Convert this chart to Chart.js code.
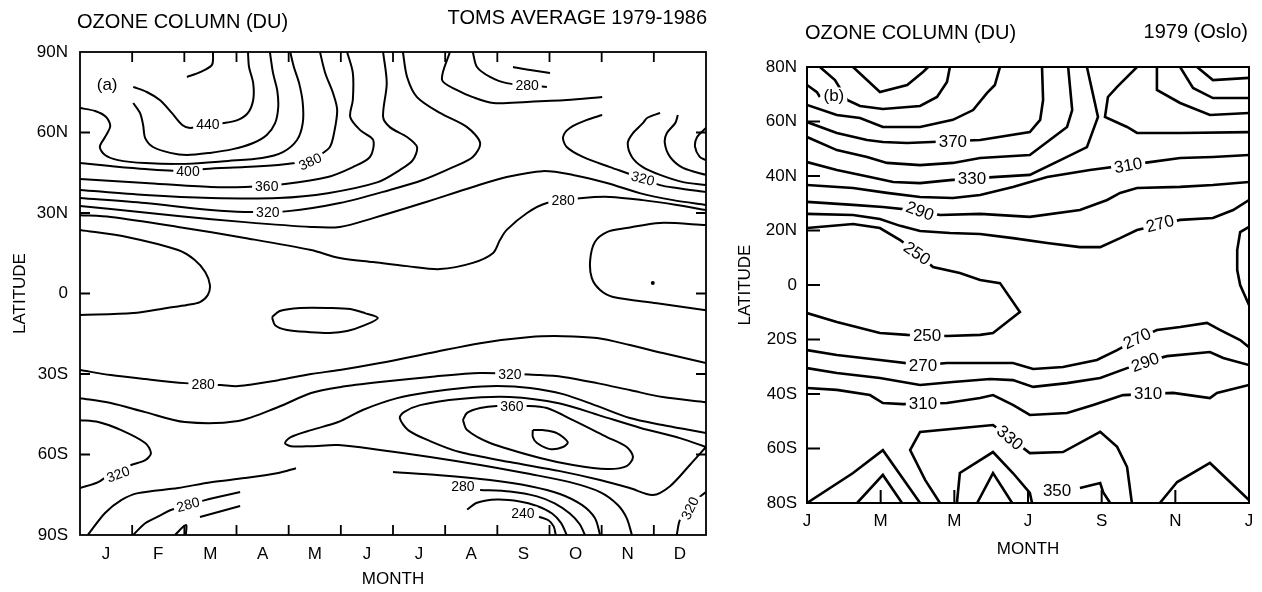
<!DOCTYPE html>
<html>
<head>
<meta charset="utf-8">
<script src="https://cdn.jsdelivr.net/npm/chart.js@4.4.0/dist/chart.umd.min.js"></script>
<style>
  html, body { margin: 0; padding: 0; background: #fff; }
  #wrap { position: relative; width: 1262px; height: 592px; }
  .panel { position: absolute; top: 0; height: 592px; }
  #pa { left: 0; width: 720px; }
  #pb { left: 720px; width: 542px; }
</style>
</head>
<body>
<div id="wrap">
  <div class="panel" id="pa"><canvas id="chartA" width="720" height="592"></canvas></div>
  <div class="panel" id="pb"><canvas id="chartB" width="542" height="592"></canvas></div>
</div>
<script>
// ---- (a) TOMS average 1979-1986 : [month (0 = start of Jan), latitude (+N / -S)] ----
const monthsA = ["J", "F", "M", "A", "M", "J", "J", "A", "S", "O", "N", "D"];
const monthCentersA = [0.5, 1.5, 2.5, 3.5, 4.5, 5.5, 6.5, 7.5, 8.5, 9.5, 10.5, 11.5];
const latTicksA = [-90, -60, -30, 0, 30, 60, 90];
const monthMarksA = [1, 2, 3, 4, 5, 6, 7, 8, 9, 10, 11];
const latMarksA = [-60, -30, 0, 30, 60];

const a460 = [[2.55,90],[2.53,85.2],[2.30,82.5],[2.05,80.7]];
const a440 = [[1.02,77.0],[1.28,75.1],[1.53,72.1],[1.76,67.3],[1.96,62.8],[2.11,61.7],[2.45,62.8],[2.76,63.5],[3.03,64.7],[3.22,67.3],[3.32,72.1],[3.32,78.4],[3.24,84.4],[3.22,90]];
const a420 = [[1.02,71.0],[1.15,67.3],[1.21,62.8],[1.25,57.9],[1.40,54.6],[1.73,52.4],[2.05,51.6],[2.49,52.4],[2.93,53.8],[3.32,56.1],[3.58,59.1],[3.74,63.5],[3.80,69.5],[3.78,75.8],[3.70,82.2],[3.64,90]];
const a410 = [[0,69.1],[0.29,68.0],[0.50,65.8],[0.58,62.4],[0.48,58.3],[0.38,54.6],[0.48,51.6],[0.73,49.7],[1.25,48.6],[2.01,48.3],[2.84,49.4],[3.49,50.5],[3.89,52.7],[4.16,57.2],[4.27,63.5],[4.27,71.0],[4.20,78.4],[4.10,84.4],[4.03,90]];
const a400 = [[0,48.6],[0.58,47.5],[1.25,46.4],[2.07,45.6],[2.40,46.4],[3.16,47.1],[3.80,47.9],[4.12,48.6],[4.41,49.7],[4.60,51.6],[4.79,54.6],[4.87,59.8],[4.93,68.4],[4.85,74.7],[4.70,82.2],[4.60,90]];
const a360 = [[0,42.7],[1.25,41.2],[2.51,39.7],[3.16,39.7],[3.93,40.8],[4.75,43.4],[5.23,47.1],[5.56,50.9],[5.62,57.2],[5.37,60.9],[5.18,65.8],[5.23,72.1],[5.23,82.2],[5.12,90]];
const a340 = [[0,38.6],[1.25,36.7],[2.51,35.6],[3.80,35.6],[4.75,37.4],[5.71,41.5],[6.13,46.0],[6.38,49.7],[6.46,54.6],[6.27,58.3],[5.94,62.0],[5.81,65.8],[5.88,78.4],[5.81,90]];
const a320 = [[0,35.6],[1.25,33.7],[2.51,31.1],[3.16,30.4],[3.99,30.7],[4.98,33.7],[5.94,38.6],[6.57,42.3],[7.15,47.1],[7.53,50.9],[7.67,56.1],[7.42,62.0],[6.90,67.3],[6.46,73.2],[6.27,80.7],[6.19,90]];
const a300 = [[0,32.6],[0.59,31.5],[1.88,28.9],[3.16,26.6],[4.43,24.8],[4.98,24.8],[5.62,28.1],[6.57,33.7],[7.53,39.7],[8.18,43.4],[8.87,45.6],[9.45,44.2],[10.10,41.2],[10.73,37.4],[11.37,34.8],[12,33.0]];
const a280 = [[0,29.2],[0.59,28.5],[1.88,24.8],[3.16,20.7],[4.43,16.2],[4.98,13.2],[5.62,11.7],[6.27,10.2],[6.90,9.1],[7.53,11.4],[7.92,15.1],[8.05,19.9],[8.18,23.7],[8.57,30.0],[8.95,33.7],[9.64,35.6],[10.16,36.0],[10.79,34.8],[11.44,33.0],[12,31.1]];
const a260 = [[0,23.7],[0.92,21.0],[1.88,16.2],[2.20,12.5],[2.40,8.0],[2.49,3.2],[2.45,-0.6],[2.30,-3.2],[2.05,-4.3],[1.67,-5.4],[1.02,-7.3],[0,-8.0]];
const a300Top = [[7.09,90],[6.94,79.6],[7.23,75.8],[7.53,73.2],[7.92,71.0],[8.57,71.4],[9.33,72.1],[10.01,73.2]];
const a280Top = [[7.53,90],[7.61,84.4],[7.86,80.7],[8.18,78.4],[8.95,77.0]];
const a260Top = [[8.30,84.4],[8.63,83.3],[9.01,82.2]];
const a320Nov = [[10.01,66.5],[9.72,64.7],[9.39,61.7],[9.26,58.3],[9.33,54.6],[9.64,50.9],[10.16,47.1],[10.48,44.9],[11.12,40.4],[11.44,39.3],[12,37.8]];
const a340Nov = [[11.12,67.3],[10.87,65.4],[10.79,63.5],[10.60,59.8],[10.50,56.1],[10.58,50.9],[10.79,47.1],[11.12,44.2],[11.56,41.5],[12,40.4]];
const a360Dec = [[11.46,66.5],[11.41,63.5],[11.25,59.8],[11.21,56.1],[11.31,50.9],[11.56,46.8],[12,44.2]];
const a380Dec = [[12,61.7],[11.83,58.3],[11.79,54.6],[11.88,50.9],[12,49.7]];
const a260Nov = [[12,25.5],[11.12,26.3],[10.48,24.4],[10.10,22.9],[9.87,19.2],[9.78,12.5],[9.81,5.8],[9.97,1.3],[10.22,-1.3],[11.06,-3.6],[12,-6.2]];
const a260Apr = [[3.68,-8.8],[3.83,-6.5],[4.22,-5.4],[4.79,-5.4],[5.18,-5.8],[5.46,-7.3],[5.71,-9.1],[5.46,-11.8],[5.12,-14.0],[4.79,-14.7],[4.41,-14.4],[3.97,-13.6],[3.74,-11.8],[3.68,-8.8]];
const a280S = [[0,-28.5],[0.59,-30.4],[1.25,-31.9],[2.01,-33.4],[2.70,-34.1],[3.03,-34.5],[3.80,-32.3],[4.43,-30.0],[4.98,-28.5],[5.75,-25.9],[6.71,-22.2],[7.67,-18.5],[8.63,-16.2],[9.26,-15.9],[9.91,-16.6],[10.54,-19.2],[11.17,-22.2],[12,-25.9]];
const a300S = [[0,-39.0],[0.59,-40.8],[1.25,-44.2],[2.01,-47.9],[3.03,-47.5],[3.80,-42.3],[4.43,-37.1],[4.98,-34.9],[5.75,-33.0],[6.71,-31.1],[7.67,-29.6],[8.82,-30.4],[9.26,-31.1],[9.91,-33.4],[10.54,-36.0],[11.17,-38.6],[12,-40.5]];
const a320Jan = [[0,-47.2],[0.35,-47.9],[0.79,-50.9],[1.25,-55.7],[1.36,-59.5],[1.25,-62.1],[0.98,-63.9],[0.58,-67.3],[0.35,-70.3],[0,-72.5]];
const a320S = [[12,-52.0],[11.69,-50.9],[11.17,-49.0],[10.54,-46.4],[9.91,-41.9],[9.26,-37.5],[8.63,-35.2],[7.99,-34.5],[7.34,-35.2],[6.71,-36.7],[6.08,-39.0],[5.42,-43.4],[4.95,-47.9],[4.43,-50.9],[4.04,-53.5],[3.93,-55.7],[4.04,-56.9],[4.43,-56.9],[4.95,-56.5],[5.75,-58.3],[6.71,-60.9],[7.67,-63.9],[8.63,-67.3],[9.39,-70.3],[9.97,-74.0],[10.31,-78.8],[10.48,-83.7],[10.58,-90]];
const a340S = [[12,-57.2],[11.50,-53.9],[10.73,-50.0],[9.97,-45.5],[9.20,-41.0],[8.24,-38.6],[7.28,-39.3],[6.52,-41.6],[6.21,-44.2],[6.13,-46.4],[6.29,-50.9],[6.71,-55.0],[7.28,-59.1],[8.24,-62.8],[9.20,-66.2],[9.97,-69.5],[10.54,-72.5],[10.98,-75.1],[11.31,-71.8],[11.69,-63.9],[12,-57.2]];
const a360S = [[7.34,-47.2],[7.42,-44.5],[7.67,-42.7],[7.99,-41.9],[8.57,-41.9],[8.95,-42.7],[9.45,-47.2],[10.10,-53.5],[10.48,-57.2],[10.60,-60.9],[10.48,-64.3],[10.10,-65.4],[9.45,-63.9],[8.82,-61.3],[7.86,-55.7],[7.42,-50.9],[7.34,-47.2]];
const a380S = [[8.68,-50.9],[8.87,-50.9],[9.14,-52.0],[9.35,-55.4],[9.26,-57.2],[9.01,-58.0],[8.76,-55.7],[8.68,-53.5],[8.68,-50.9]];
const a300Sep = [[6.00,-66.5],[6.90,-67.7],[7.86,-69.5],[8.63,-71.8],[9.20,-74.7],[9.62,-78.8],[9.87,-83.7],[9.97,-90]];
const a280Sep = [[7.67,-73.2],[8.24,-73.8],[8.76,-75.6],[9.10,-78.2],[9.39,-82.0],[9.58,-86.0],[9.68,-90]];
const a260Sep = [[7.42,-80.5],[7.61,-78.0],[7.99,-76.8],[8.43,-77.5],[8.76,-79.2],[9.05,-82.0],[9.22,-85.5],[9.33,-90]];
const a240Sep = [[8.80,-83.2],[8.98,-84.5],[9.08,-86.8],[9.12,-90]];
const a300Feb = [[0.15,-90],[0.48,-81.8],[0.79,-77.0],[1.11,-74.4],[1.88,-72.5],[2.51,-70.3],[3.16,-68.8],[3.80,-66.9],[4.14,-65.1]];
const a280Feb = [[1.02,-90],[1.25,-85.6],[1.55,-82.6],[1.74,-80.7],[2.40,-77.0],[3.07,-74.0]];
const a260Feb = [[2.30,-83.3],[3.07,-79.2]];
const a240Feb = [[1.82,-90],[2.03,-86.3],[2.03,-90]];
const a320Dec = [[11.44,-90],[11.50,-84.4],[11.69,-78.8],[12,-74.0]];
const dotsA = [[10.98,3.9]];

// contour labels: [text, month, latitude, angle]
const labelsA = [
  ["440",2.45,63.2,0], ["400",2.07,45.6,0], ["380",4.41,49.2,-25], ["360",3.58,39.9,0],
  ["320",3.60,30.5,0], ["280",8.57,77.7,0], ["280",9.26,34.7,0], ["320",10.79,42.9,15],
  ["280",2.36,-33.6,0], ["320",8.24,-30.2,0], ["360",8.28,-41.9,0], ["320",0.73,-67.3,-20],
  ["280",2.07,-78.6,-15], ["280",7.34,-71.8,0], ["240",8.49,-81.8,0], ["320",11.69,-80.0,-65]
];

// ---- (b) 1979 (Oslo) model ----
const monthsB = ["J", "M", "M", "J", "S", "N", "J"];
const monthTicksB = [0, 2, 4, 6, 8, 10, 12];
const latTicksB = [-80, -60, -40, -20, 0, 20, 40, 60, 80];
const monthMarksB = [2, 4, 6, 8, 10];
const latMarksB = [-60, -40, -20, 0, 20, 40, 60];

const b410 = [[1.25,80],[1.98,70.8],[2.72,73.4],[3.15,78.2],[3.29,80]];
const b400 = [[0.35,80],[0.76,75.2],[1.09,67.9],[1.44,65.7],[2.06,64.6],[3.07,65.7],[3.53,69.0],[3.80,74.5],[3.88,80]];
const b400Edge = [[0,73.4],[0.27,70.8],[0.35,69.0]];
const b390 = [[0,66.1],[0.81,62.4],[1.44,61.3],[2.06,58.0],[3.07,58.0],[3.96,60.6],[4.51,64.2],[4.89,70.5],[5.10,73.4],[5.24,80]];
const b370 = [[0,59.8],[0.81,55.8],[1.63,53.2],[2.06,52.5],[2.72,52.1],[4.70,53.2],[6.05,56.1],[6.33,60.6],[6.41,67.9],[6.38,80]];
const b350 = [[0,54.3],[0.81,49.5],[1.63,47.0],[2.17,44.8],[3.07,44.0],[3.96,44.8],[4.70,46.6],[6.05,47.7],[7.06,58.0],[7.20,64.2],[7.09,80]];
const b330 = [[0,45.1],[0.81,42.2],[1.71,39.6],[2.34,37.8],[3.07,37.4],[3.88,38.5],[5.05,39.6],[6.05,40.4],[7.06,47.0],[7.60,50.6],[7.90,61.7],[7.60,80]];
const b330Oct = [[8.96,80],[8.42,72.7],[8.17,69.0],[8.09,61.7],[8.69,58.0],[8.96,55.8],[10.13,55.8],[12,56.1]];
const b350Nov = [[9.50,80],[9.50,71.6],[10.13,66.8],[10.94,62.4],[12,63.1]];
const b370Nov = [[10.13,80],[10.48,72.3],[11.02,68.6],[12,68.6]];
const b390Dec = [[10.59,80],[11.02,75.2],[12,76.0]];
const b310 = [[0,36.7],[1.25,35.6],[2.17,33.8],[3.07,32.3],[3.96,31.9],[4.70,33.0],[5.59,36.0],[6.52,39.6],[7.68,42.2],[9.31,45.1],[10.13,46.6],[11.02,47.0],[12,47.7]];
const b290 = [[0,30.5],[1.25,29.4],[2.06,28.6],[3.07,27.2],[3.61,25.7],[4.70,26.1],[6.05,25.0],[7.41,27.5],[8.15,31.2],[8.50,33.8],[8.96,35.6],[10.13,36.0],[11.02,36.7],[12,37.8]];
const b270 = [[0,26.1],[1.25,25.7],[1.98,24.2],[2.53,21.7],[3.07,19.8],[3.88,19.1],[4.70,18.7],[5.59,17.2],[6.52,15.4],[7.41,13.9],[7.96,13.9],[8.50,17.2],[8.96,20.2],[10.13,23.9],[11.02,24.6],[11.57,27.5],[12,31.2]];
const b250 = [[0,20.9],[1.25,22.4],[1.98,20.9],[2.53,16.5],[2.99,11.7],[3.42,6.6],[4.15,4.4],[4.70,1.8],[5.24,0.7],[5.78,-9.9],[5.05,-17.6],[4.70,-18.3],[3.80,-18.7],[2.72,-18.3],[1.98,-17.6],[0.81,-13.6],[0,-10.3]];
const b250Dec = [[12,21.3],[11.76,19.4],[11.68,12.8],[11.68,5.5],[11.76,0],[12,-7.3]];
const b270S = [[0,-23.9],[0.81,-25.7],[1.98,-27.5],[3.15,-29.4],[3.80,-28.6],[4.97,-28.6],[5.59,-28.6],[6.14,-30.8],[6.95,-30.1],[7.87,-27.5],[8.42,-23.9],[8.91,-20.2],[9.50,-16.5],[10.13,-15.4],[10.86,-13.9],[11.21,-16.5],[11.76,-20.2],[12,-22.8]];
const b290S = [[0,-30.5],[0.81,-32.3],[1.98,-34.1],[3.07,-36.7],[3.96,-35.6],[4.97,-34.5],[5.59,-34.9],[6.14,-37.4],[7.06,-36.0],[7.96,-34.1],[8.69,-30.5],[9.18,-28.3],[9.77,-26.1],[10.94,-24.6],[11.30,-26.8],[12,-29.4]];
const b310S = [[0,-37.8],[0.81,-38.5],[1.71,-40.4],[2.06,-43.3],[2.61,-43.7],[3.80,-43.3],[4.70,-41.5],[5.05,-40.4],[5.59,-44.0],[6.05,-47.7],[7.06,-47.0],[7.77,-44.0],[8.58,-40.4],[9.94,-39.6],[10.94,-41.5],[11.13,-39.6],[12,-36.7]];
const b330S = [[3.61,-80],[3.21,-71.6],[2.80,-60.6],[3.07,-53.9],[5.05,-51.4],[6.05,-61.7],[6.95,-61.3],[7.96,-53.9],[8.42,-59.4],[8.69,-66.8],[8.82,-80]];
const b350Feb = [[0,-80],[1.25,-69.0],[2.06,-60.6],[3.07,-80]];
const b370Feb = [[1.36,-80],[2.06,-69.7],[2.58,-80]];
const b350Jun = [[4.07,-80],[4.15,-69.0],[5.05,-61.3],[5.59,-69.0],[6.05,-76.3],[6.11,-80]];
const b370Jun = [[4.62,-80],[5.05,-69.0],[5.57,-80]];
const b350Sep = [[7.41,-74.5],[7.96,-72.7],[8.04,-76.0],[8.23,-80]];
const b350Dec = [[9.58,-80],[10.05,-72.3],[10.94,-65.3],[12,-78.9]];

const labelsB = [
  ["370",3.96,52.6,0], ["330",4.48,39.0,0], ["310",8.72,44.0,-10], ["290",3.07,27.2,20],
  ["270",9.58,22.6,-15], ["250",2.99,11.7,35], ["250",3.26,-18.4,0], ["270",3.15,-29.4,0],
  ["310",3.15,-43.6,0], ["270",8.96,-19.6,-25], ["290",9.18,-28.3,-20], ["310",9.26,-39.8,0],
  ["330",5.51,-56.0,40], ["350",6.79,-75.2,0]
];

// ---------------------------------------------------------------
const FONT = '"Liberation Sans", Arial, Helvetica, sans-serif';
Chart.defaults.font.family = FONT;
Chart.defaults.color = "#000";

const latLabel = (v) => (v === 0 ? "0" : v > 0 ? v + "N" : -v + "S");
const toPts = (arr) => arr.map(([x, y]) => ({ x, y }));

function decorPlugin(d) {
  return {
    id: "decor",
    afterDatasetsDraw(chart) {
      const { ctx, chartArea: a, scales: { x, y } } = chart;
      ctx.save();
      ctx.strokeStyle = "#000";
      ctx.lineWidth = d.frame;
      ctx.strokeRect(a.left, a.top, a.right - a.left, a.bottom - a.top);
      ctx.beginPath();
      d.xMarks.forEach((m) => {
        const px = x.getPixelForValue(m);
        ctx.moveTo(px, a.bottom);
        ctx.lineTo(px, a.bottom - d.tick);
        if (d.mirror) {
          ctx.moveTo(px, a.top);
          ctx.lineTo(px, a.top + d.tick);
        }
      });
      d.yMarks.forEach((v) => {
        const py = y.getPixelForValue(v);
        ctx.moveTo(a.left, py);
        ctx.lineTo(a.left + d.tick, py);
        if (d.mirror) {
          ctx.moveTo(a.right, py);
          ctx.lineTo(a.right - d.tick, py);
        }
      });
      ctx.stroke();

      ctx.textAlign = "center";
      ctx.textBaseline = "middle";
      const items = d.labels.concat([[d.tag[0], d.tag[1], d.tag[2], 0, 17]]);
      items.forEach(([t, m, lat, rot, size]) => {
        const fs = size || d.labelSize;
        ctx.font = fs + "px " + FONT;
        const w = ctx.measureText(t).width;
        ctx.save();
        ctx.translate(x.getPixelForValue(m), y.getPixelForValue(lat));
        ctx.rotate(((rot || 0) * Math.PI) / 180);
        ctx.fillStyle = "#fff";
        ctx.fillRect(-w / 2 - 3, -fs * 0.45, w + 6, fs * 0.9);
        ctx.fillStyle = "#000";
        ctx.fillText(t, 0, 1);
        ctx.restore();
      });
      ctx.restore();
    },
    afterDraw(chart) {
      const ctx = chart.ctx;
      ctx.save();
      ctx.fillStyle = "#000";
      ctx.font = "20px " + FONT;
      ctx.textBaseline = "middle";
      d.titles.forEach(([t, px, py, align]) => {
        ctx.textAlign = align;
        ctx.fillText(t, px, py);
      });
      ctx.restore();
    },
  };
}

function build(id, d) {
  const datasets = d.lines.map((line) => ({
    data: toPts(line),
    showLine: true,
    pointRadius: 0,
    borderColor: "#000",
    borderWidth: d.lineWidth,
    tension: d.tension,
    fill: false,
  }));
  if (d.dots) {
    datasets.push({ data: toPts(d.dots), showLine: false, pointRadius: 2, backgroundColor: "#000", borderWidth: 0 });
  }
  return new Chart(document.getElementById(id), {
    type: "scatter",
    data: { datasets },
    options: {
      responsive: false,
      animation: false,
      events: [],
      layout: { padding: d.pad },
      plugins: { legend: { display: false }, tooltip: { enabled: false } },
      scales: {
        x: {
          type: "linear",
          min: 0,
          max: 12,
          afterBuildTicks: (s) => { s.ticks = d.xTicks.map((value) => ({ value })); },
          afterFit: (s) => { s.height = d.xHeight; },
          grid: { display: false, drawTicks: false },
          border: { display: false },
          ticks: { autoSkip: false, maxRotation: 0, padding: d.xPad, font: { size: 17 }, color: "#000",
                   callback: (v, i) => d.xLabels[i] },
          title: { display: true, text: "MONTH", font: { size: 17 }, color: "#000",
                   padding: { top: 0, bottom: d.xTitlePad } },
        },
        y: {
          type: "linear",
          min: d.yTicks[0],
          max: d.yTicks[d.yTicks.length - 1],
          afterBuildTicks: (s) => { s.ticks = d.yTicks.map((value) => ({ value })); },
          afterFit: (s) => { s.width = d.yWidth; },
          grid: { display: false, drawTicks: false },
          border: { display: false },
          ticks: { autoSkip: false, padding: d.yPad, font: { size: 17 }, color: "#000",
                   callback: (v) => latLabel(v) },
          title: { display: true, text: "LATITUDE", font: { size: 17 }, color: "#000",
                   padding: { top: d.yTitlePad, bottom: 0 } },
        },
      },
    },
    plugins: [decorPlugin(d)],
  });
}

build("chartA", {
  lines: [a460, a440, a420, a410, a400, a360, a340, a320, a300, a280, a260,
          a300Top, a280Top, a260Top, a320Nov, a340Nov, a360Dec, a380Dec, a260Nov, a260Apr,
          a280S, a300S, a320Jan, a320S, a340S, a360S, a380S,
          a300Sep, a280Sep, a260Sep, a240Sep, a300Feb, a280Feb, a260Feb, a240Feb, a320Dec],
  dots: dotsA,
  labels: labelsA,
  labelSize: 14,
  tag: ["(a)", 0.52, 78.1],
  xTicks: monthCentersA, xLabels: monthsA, yTicks: latTicksA,
  xMarks: monthMarksA, yMarks: latMarksA, mirror: true, tick: 10,
  lineWidth: 2, tension: 0.3, frame: 1.8,
  pad: { top: 52, right: 14, left: 0, bottom: 0 },
  yWidth: 80, xHeight: 57, xPad: 9, yPad: 12, xTitlePad: 2, yTitlePad: 10,
  titles: [["OZONE COLUMN (DU)", 77, 22, "left"], ["TOMS AVERAGE 1979-1986", 707, 18, "right"]],
});

build("chartB", {
  lines: [b410, b400, b400Edge, b390, b370, b350, b330, b330Oct, b350Nov, b370Nov, b390Dec,
          b310, b290, b270, b250, b250Dec, b270S, b290S, b310S, b330S,
          b350Feb, b370Feb, b350Jun, b370Jun, b350Sep, b350Dec],
  labels: labelsB,
  labelSize: 17,
  tag: ["(b)", 0.73, 69.7],
  xTicks: monthTicksB, xLabels: monthsB, yTicks: latTicksB,
  xMarks: monthMarksB, yMarks: latMarksB, mirror: false, tick: 13,
  lineWidth: 2.6, tension: 0, frame: 2,
  pad: { top: 67, right: 13, left: 0, bottom: 0 },
  yWidth: 87, xHeight: 89, xPad: 8, yPad: 10, xTitlePad: 32, yTitlePad: 15,
  titles: [["OZONE COLUMN (DU)", 85, 33, "left"], ["1979 (Oslo)", 528, 32, "right"]],
});
</script>
</body>
</html>
